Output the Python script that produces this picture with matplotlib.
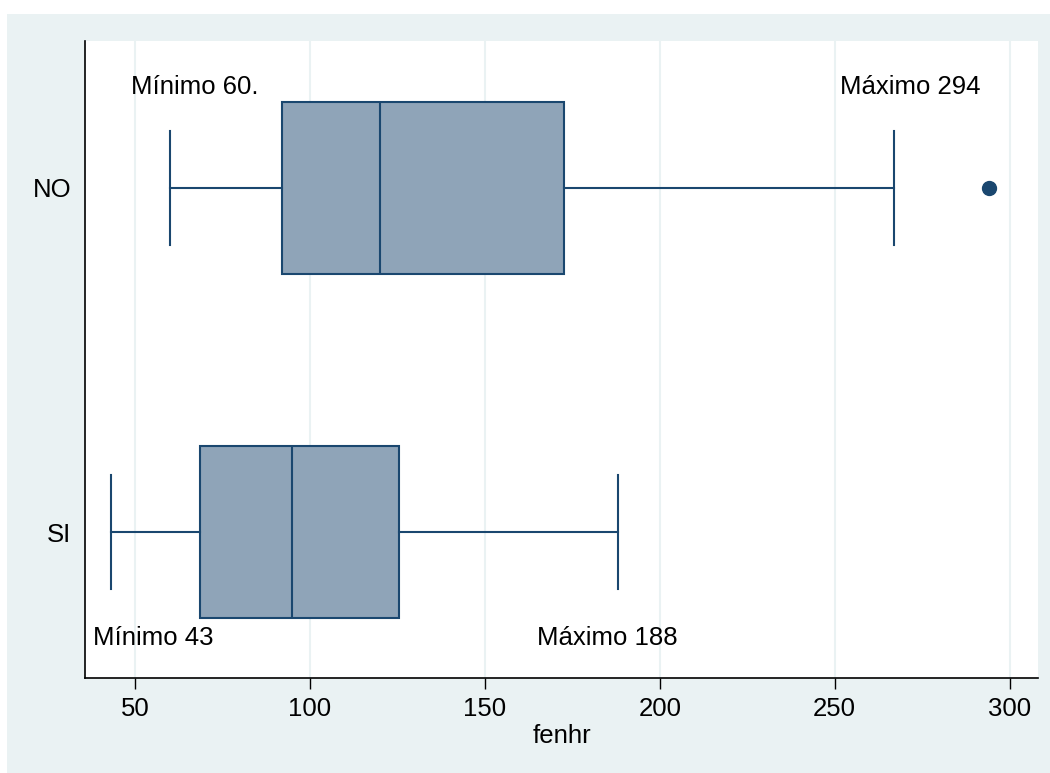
import matplotlib.pyplot as plt
from matplotlib.patches import Rectangle

plt.rcParams['font.family'] = ['Liberation Sans', 'DejaVu Sans']

# five-number summaries of fenhr by group
groups = ["SI", "NO"]
whisker_lo = [43, 60]
q1 = [68.5, 92]
medians = [95, 120]
q3 = [125.5, 172.5]
whisker_hi = [188, 267]
outliers = [[], [294]]

min_labels = ["Mínimo 43", "Mínimo 60."]
max_labels = ["Máximo 188", "Máximo 294"]

navy = "#1a476f"
fill = "#8fa4b8"
bg = "#eaf2f3"

fig = plt.figure(figsize=(10.5, 7.73), dpi=100)
fig.patches.append(Rectangle((7 / 1050, 0), 1, 1 - 14 / 773, transform=fig.transFigure,
                             facecolor=bg, edgecolor="none", zorder=-10))
ax = fig.add_axes([85 / 1050, 95 / 773, (1038 - 85) / 1050, (678 - 41) / 773])
ax.set_facecolor("white")

stats = []
for i, g in enumerate(groups):
    stats.append(dict(label=g, whislo=whisker_lo[i], q1=q1[i], med=medians[i],
                      q3=q3[i], whishi=whisker_hi[i], fliers=outliers[i]))

ax.bxp(stats, positions=[1, 2], vert=False, widths=0.5, patch_artist=True,
       boxprops=dict(facecolor=fill, edgecolor=navy, linewidth=1.5),
       medianprops=dict(color=navy, linewidth=1.5),
       whiskerprops=dict(color=navy, linewidth=1.5),
       capprops=dict(color=navy, linewidth=1.5),
       capwidths=0.33,
       flierprops=dict(marker="o", markerfacecolor=navy, markeredgecolor=navy,
                       markersize=10))

# min / max annotations
ax.text(38.0, 0.692, min_labels[0], fontsize=18.5, ha="left", va="center")
ax.text(164.9, 0.692, max_labels[0], fontsize=18.5, ha="left", va="center")
ax.text(48.8, 2.294, min_labels[1], fontsize=18.5, ha="left", va="center")
ax.text(251.5, 2.294, max_labels[1], fontsize=18.5, ha="left", va="center")

ax.set_xlim(35.7, 308.1)
ax.set_ylim(0.576, 2.427)
ax.set_xticks([50, 100, 150, 200, 250, 300])
ax.grid(axis="x", color=bg, linewidth=1.5)
ax.set_axisbelow(True)
ax.tick_params(axis="x", labelsize=18.5, length=8, width=1, pad=6)
ax.tick_params(axis="y", labelsize=18.5, length=0, pad=10)
ax.set_xlabel("fenhr", fontsize=18.5, labelpad=2)

for side in ["top", "right"]:
    ax.spines[side].set_visible(False)
ax.spines["left"].set_linewidth(1.2)
ax.spines["bottom"].set_linewidth(1.2)

fig.savefig("out.png", dpi=100)
